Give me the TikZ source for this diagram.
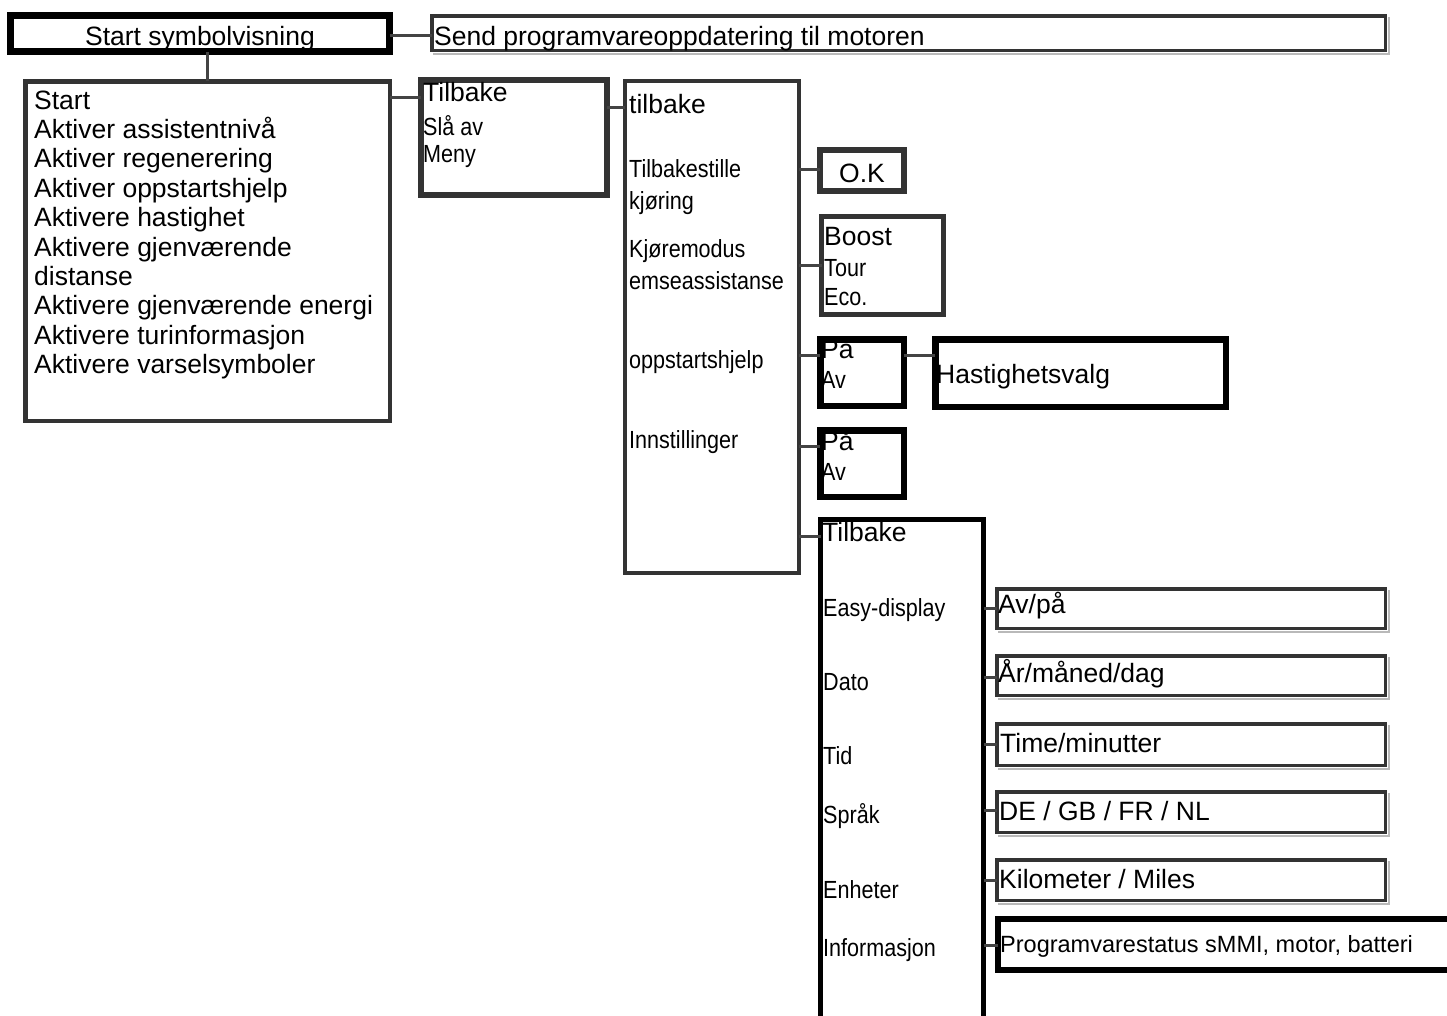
\documentclass[tikz,border=0pt]{standalone}
\usepackage{fontspec}
\setmainfont{Liberation Sans}
\newfontfamily\narrowf[FakeStretch=0.87]{Liberation Sans}
\definecolor{c3}{HTML}{333333}
\definecolor{c4}{HTML}{444444}
\newcommand\mybx[7]{% name, color, lw, x1,y1,x2,y2
  \node[draw=#2, line width=#3pt, inner sep=0pt, outer sep=0pt, anchor=north west,
    minimum width={#6-#4-#3}, minimum height={#7-#5-#3}] (#1) at ({#4+#3/2},{#5+#3/2}) {};}
\newcommand\myshadow[4]{% x1,y1,x2,y2 : soft grey shadow below / right
  \draw[gray!55, line width=2.5pt] ({#1+3},{#4+2}) -- ({#3+2},{#4+2}) -- ({#3+2},{#2+3});}
\tikzset{
  tbig/.style={font=\fontsize{26.5}{29.4}\selectfont, inner sep=0pt, anchor=base west},
  tnar/.style={font=\narrowf\fontsize{24.8}{26}\selectfont, inner sep=0pt, anchor=base west},
  tsm/.style={font=\fontsize{23.5}{26}\selectfont, inner sep=0pt, anchor=base west},
  conn/.style={draw=c4, line width=3pt}
}
\begin{document}
\begin{tikzpicture}[x=1pt,y=-1pt]
\path[use as bounding box, fill=white] (0,0) rectangle (1447,1015);
\clip (0,0) rectangle (1447,1015);
% shadows
\myshadow{430}{14}{1387}{52}
\myshadow{995}{587}{1387}{630}
\myshadow{995}{654}{1387}{697}
\myshadow{995}{722}{1387}{767}
\myshadow{995}{790}{1387}{834}
\myshadow{995}{858}{1387}{902}
% boxes
\mybx{A}{black}{7}{7}{12}{393}{55}
\mybx{B}{c3}{3.5}{430}{14}{1387}{52}
\mybx{C}{c3}{4.5}{23}{79}{392}{423}
\mybx{D}{c3}{6}{418}{77}{610}{198}
\mybx{E}{c3}{4}{623}{79}{801}{575}
\mybx{F}{c3}{6}{817}{147}{907}{194}
\mybx{G}{c3}{5}{819}{214}{946}{317}
\mybx{H}{black}{6.5}{817}{336}{907}{409}
\mybx{I}{black}{6.5}{932}{336}{1229}{410}
\mybx{J}{black}{6.5}{817}{427}{907}{500}
\mybx{K}{black}{5}{818}{517}{986}{1030}
\mybx{L}{c3}{3.5}{995}{587}{1387}{630}
\mybx{M}{c3}{3.5}{995}{654}{1387}{697}
\mybx{N}{c3}{3.5}{995}{722}{1387}{767}
\mybx{O}{c3}{3.5}{995}{790}{1387}{834}
\mybx{P}{c3}{3.5}{995}{858}{1387}{902}
\mybx{Q}{black}{6}{995}{916}{1470}{973}
% connectors
\path[conn] (A.east |- 0,35) -- (B.west |- 0,35);
\path[conn] (A.south -| 207,0) -- (C.north -| 207,0);
\path[conn] (C.east |- 0,97) -- (D.west |- 0,97);
\path[conn] (D.east |- 0,107) -- (E.west |- 0,107);
\path[conn] (E.east |- 0,169) -- (F.west |- 0,169);
\path[conn] (E.east |- 0,265) -- (G.west |- 0,265);
\path[conn] (E.east |- 0,355) -- (H.west |- 0,355);
\path[conn] (H.east |- 0,355) -- (I.west |- 0,355);
\path[conn] (E.east |- 0,446) -- (J.west |- 0,446);
\path[conn] (E.east |- 0,536) -- (K.west |- 0,536);
\path[conn] (K.east |- 0,608) -- (L.west |- 0,608);
\path[conn] (K.east |- 0,677) -- (M.west |- 0,677);
\path[conn] (K.east |- 0,744) -- (N.west |- 0,744);
\path[conn] (K.east |- 0,810) -- (O.west |- 0,810);
\path[conn] (K.east |- 0,880) -- (P.west |- 0,880);
\path[conn] (K.east |- 0,945) -- (Q.west |- 0,945);
% texts
\node[tbig, anchor=base] (tA) at (200,45) {Start symbolvisning};
\node[tbig] (tB) at (434,45) {Send programvareoppdatering til motoren};
\foreach \t [count=\i from 0] in {Start, Aktiver assistentnivå, Aktiver regenerering,
  Aktiver oppstartshjelp, Aktivere hastighet, Aktivere gjenværende, distanse,
  Aktivere gjenværende energi, Aktivere turinformasjon, Aktivere varselsymboler}
  \node[tbig] (tC\i) at (34,{109+29.4*\i}) {\t};
\node[tbig] (tD1) at (423,101) {Tilbake};
\node[tnar] (tD2) at (423,135) {Slå av};
\node[tnar] (tD3) at (423,162) {Meny};
\node[tbig] (tE1) at (629,113) {tilbake};
\node[tnar] (tE2) at (629,177) {Tilbakestille};
\node[tnar] (tE3) at (629,209) {kjøring};
\node[tnar] (tE4) at (629,257) {Kjøremodus};
\node[tnar] (tE5) at (629,289) {emseassistanse};
\node[tnar] (tE6) at (629,368) {oppstartshjelp};
\node[tnar] (tE7) at (629,448) {Innstillinger};
\node[tbig, anchor=base] (tF) at (862,182) {O.K};
\node[tbig] (tG1) at (824,245) {Boost};
\node[tnar] (tG2) at (824,276) {Tour};
\node[tnar] (tG3) at (824,305) {Eco.};
\node[tbig] (tH1) at (821,358) {På};
\node[tnar] (tH2) at (821,388) {Av};
\node[tbig] (tI) at (936,383) {Hastighetsvalg};
\node[tbig] (tJ1) at (821,450) {På};
\node[tnar] (tJ2) at (821,480) {Av};
\node[tbig] (tK1) at (822,541) {Tilbake};
\node[tnar] (tK2) at (823,616) {Easy-display};
\node[tnar] (tK3) at (823,690) {Dato};
\node[tnar] (tK4) at (823,764) {Tid};
\node[tnar] (tK5) at (823,823) {Språk};
\node[tnar] (tK6) at (823,898) {Enheter};
\node[tnar] (tK7) at (823,956) {Informasjon};
\node[tbig] (tL) at (998,613) {Av/på};
\node[tbig] (tM) at (998,682) {År/måned/dag};
\node[tbig] (tN) at (1000,752) {Time/minutter};
\node[tbig] (tO) at (999,820) {DE / GB / FR / NL};
\node[tbig] (tP) at (999,888) {Kilometer / Miles};
\node[tsm] (tQ) at (1000,952) {Programvarestatus sMMI, motor, batteri};
\end{tikzpicture}
\end{document}
